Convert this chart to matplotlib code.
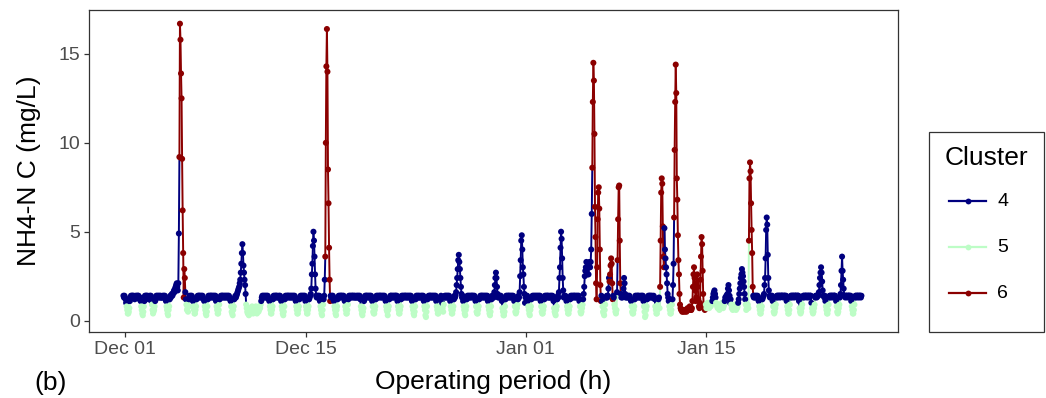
import numpy as np
import pandas as pd
import matplotlib
matplotlib.use("Agg")
import matplotlib.pyplot as plt
import matplotlib.dates as mdates
from matplotlib.collections import LineCollection
from matplotlib.lines import Line2D
from matplotlib.patches import Rectangle

plt.rcParams['font.family'] = ['Liberation Sans', 'DejaVu Sans']

# Hourly record, first sample at 21:00 on 30 Nov
series_start = "2018-11-30 21:00"

# NH4-N concentration in tenths of mg/L, one row per 24 hourly samples
nh4_tenths = [
    "14 13 14 13 12 10 8 6 4 4 5 7 11 13 14 13 14 14 13 14 13 12 13 14",
    "13 14 13 14 14 13 12 13 11 8 6 4 3 5 8 11 14 13 14 14 13 14 13 12",
    "13 14 13 14 11 9 6 4 5 6 8 11 13 14 13 14 13 14 13 14 13 14 13 13",
    "13 14 13 14 13 14 13 11 8 6 4 3 6 8 12 14 13 14 15 14 15 16 17 16",
    "18 19 20 21 19 17 21 49 92 167 158 139 125 91 62 38 13 29 24 16 12 9 6 7",
    "5 8 12 14 13 14 13 14 13 11 8 6 4 4 6 8 12 13 14 13 14 14 13 14",
    "13 14 13 14 13 12 11 8 6 4 3 5 8 12 14 13 14 13 14 14 13 14 13 14",
    "13 14 13 14 11 8 6 4 4 6 9 12 13 14 13 14 14 13 14 13 14 13 14 13",
    "14 13 14 13 14 13 12 11 8 5 4 3 6 8 12 13 14 13 14 15 16 17 18 19",
    "21 23 27 32 38 43 38 31 27 23 20 15 9 7 5 4 6 3 5 7 4 6 5 8",
    "6 4 5 7 5 6 8 5 4 6 7 5 6 8 7 9 11 13 14 13 14 13 14 13",
    "14 13 14 13 14 13 12 11 8 6 4 4 6 8 12 14 13 14 13 14 14 13 14 13",
    "13 14 13 14 13 11 8 6 4 3 5 8 12 14 13 14 13 14 14 13 14 13 14 13",
    "14 13 14 13 14 13 14 13 11 8 6 4 4 6 8 12 13 14 13 14 13 14 13 14",
    "13 14 11 8 6 4 4 6 8 12 13 14 15 18 26 32 42 50 45 36 26 18 14 13",
    "14 13 14 13 14 11 8 6 4 3 6 9 12 14 23 36 100 143 164 140 85 66 41 23",
    "11 14 13 14 13 14 13 11 8 6 4 3 6 8 12 13 14 13 14 13 14 14 13 14",
    "13 14 13 11 8 6 4 4 6 9 12 14 13 14 13 14 13 14 14 13 14 13 14 13",
    "13 14 13 14 13 14 13 14 12 8 6 4 3 5 7 11 13 14 13 14 14 13 14 13",
    "14 13 14 13 14 13 11 8 5 4 4 6 8 12 14 13 14 13 14 13 14 14 13 14",
    "13 14 13 14 13 14 13 11 8 6 5 3 6 8 12 13 14 14 13 14 13 14 13 14",
    "13 14 14 13 14 11 8 6 4 4 6 8 12 14 13 14 13 14 13 14 14 13 14 13",
    "14 13 14 13 14 13 14 13 11 8 6 4 3 5 8 12 14 13 14 13 14 13 14 13",
    "13 14 13 14 13 14 11 8 6 3 2 5 8 12 13 14 13 14 14 13 14 13 14 13",
    "14 13 14 13 14 11 8 6 4 4 6 8 12 13 14 13 10 7 5 9 13 14 13 14",
    "13 14 13 14 13 14 13 11 8 6 4 4 6 8 12 14 13 14 16 20 24 29 34 37",
    "33 29 24 19 15 13 14 11 8 6 4 3 6 8 12 14 13 14 13 14 13 14 13 14",
    "14 13 14 13 14 13 11 8 5 4 4 6 8 12 13 14 13 14 14 13 14 13 14 13",
    "14 13 14 13 14 11 8 6 4 3 5 8 12 14 13 14 13 16 20 24 27 24 19 15",
    "13 14 13 14 13 14 13 11 7 5 3 3 5 8 12 14 13 14 13 14 14 13 14 13",
    "14 13 14 13 14 13 11 8 5 4 5 7 9 12 14 13 16 25 34 45 48 40 30 26",
    "19 15 10 13 14 13 14 11 8 6 4 3 6 8 12 13 14 13 14 13 14 13 14 13",
    "14 13 14 13 14 13 14 11 8 5 4 4 6 8 12 14 13 14 13 14 14 13 14 13",
    "13 14 13 14 13 14 13 11 7 5 4 3 6 8 12 14 13 16 24 30 41 50 46 35",
    "24 17 13 14 13 14 13 11 8 6 4 4 6 8 12 14 13 14 13 14 13 14 14 13",
    "14 13 14 13 14 13 14 11 8 5 4 5 7 9 12 15 19 25 28 30 33 30 26 30",
    "26 30 33 30 33 40 60 86 123 145 135 105 64 47 21 12 30 57 72 75 63 40 20 11",
    "14 11 8 5 4 3 6 9 13 13 14 13 14 18 24 22 26 31 35 32 21 12 14 13",
    "9 7 5 4 6 16 34 57 75 76 45 21 15 13 14 13 14 18 24 21 15 13 14 13",
    "14 13 14 13 14 13 12 11 8 5 4 4 6 8 12 14 13 14 13 14 14 13 14 13",
    "13 14 13 14 13 14 11 8 5 2 3 6 8 12 13 14 13 14 14 13 14 13 14 13",
    "13 14 13 12 8 6 4 4 6 9 12 13 7 19 45 72 80 77 53 36 30 52 40 35",
    "30 26 21 15 13 11 8 6 4 4 6 9 12 20 32 58 96 123 144 128 80 68 48 34",
    "26 15 9 7 6 6 5 6 5 6 6 5 6 6 5 6 7 6 6 7 8 7 6 6",
    "7 11 19 26 30 24 17 11 13 21 26 19 12 8 7 10 23 36 47 43 28 15 8 7",
    "6 8 9 7 8 10 9 8 7 9 10 8 9 10 11 13 15 16 17 15 13 10 9 8",
    "7 9 8 6 8 9 7 8 10 9 7 8 9 11 13 12 14 13 15 18 20 17 14 10",
    "12 9 7 8 6 7 9 8 7 8 6 9 7 8 10 12 15 18 21 24 26 29 27 25",
    "22 19 15 12 9 6 7 8 9 7 45 80 89 84 66 51 38 19 14 13 14 13 14 13",
    "14 13 14 13 11 8 6 4 4 6 8 12 13 14 15 20 24 35 51 58 54 37 24 17",
    "14 13 14 14 13 14 11 8 5 4 5 7 9 13 14 14 13 14 14 14 13 14 14 14",
    "14 14 13 14 14 14 13 14 11 8 6 4 4 6 9 13 14 14 13 14 14 14 13 14",
    "14 14 14 13 14 14 14 11 7 5 4 5 7 9 13 14 14 13 14 14 14 14 13 14",
    "14 14 13 14 14 14 10 7 5 4 5 7 9 13 14 14 13 14 14 14 16 20 24 27",
    "30 27 22 17 14 14 13 14 11 8 6 4 4 6 9 13 14 14 13 14 14 14 13 14",
    "14 14 14 13 11 8 5 4 5 7 9 13 15 20 28 36 28 23 18 14 14 13 14 14",
    "14 13 14 14 14 14 13 14 11 8 6 4 4 6 9 13 14 14 13 14 14 14 13 14",
    "14 14 13 14",
]

# Cluster label of every hourly sample, same layout as above
cluster_codes = [
    "444444555555444444444444",
    "444444444555555444444444",
    "444445555554444444444444",
    "444444445555554444444444",
    "444444446666666666644555",
    "554444444455555544444444",
    "444444455555544444444444",
    "444445555554444444444444",
    "444444445555554444444444",
    "444444444444555555555555",
    "555555555555555544444444",
    "444444445555554444444444",
    "444444555555444444444444",
    "444444444555555444444444",
    "444555555444444444444444",
    "444444555555444666666666",
    "644444445555554444444444",
    "444455555544444444444444",
    "444444444555555444444444",
    "444444455555544444444444",
    "444444445555554444444444",
    "444444555555444444444444",
    "444444444555555444444444",
    "444444455555544444444444",
    "444444555555444445554444",
    "444444445555554444444444",
    "444444445555554444444444",
    "444444455555544444444444",
    "444444555555444444444444",
    "444444445555554444444444",
    "444444455555544444444444",
    "444444445555554444444444",
    "444444445555554444444444",
    "444444445555554444444444",
    "444444445555554444444444",
    "444444445555554444444444",
    "444444466666666666666666",
    "445555554444444666666644",
    "555554666666444444444444",
    "444444445555554444444444",
    "444444455555544444444444",
    "444455555544566666666444",
    "444444555555444666666666",
    "666666666666666666666666",
    "666666666666666666666666",
    "665555555555554444444555",
    "555555555555544444444444",
    "455555555555554444444444",
    "444455555566666666444444",
    "444445555554444444444444",
    "444444455555544444444444",
    "444444444555555444444444",
    "444444445555554444444444",
    "444444455555544444444444",
    "444444444555555444444444",
    "444445555554444444444444",
    "444444444555555444444444",
    "4444",
]

cluster_names = ["4", "5", "6"]
cluster_colors = {4: "#00007F", 5: "#BDFDC6", 6: "#8B0000"}

bad = [i for i, (v, c) in enumerate(zip(nh4_tenths, cluster_codes))
       if len(v.split()) != len(c)]
if bad:
    raise ValueError(f"row length mismatch in rows {bad}")

nh4 = np.array([int(t) for row in nh4_tenths for t in row.split()]) / 10.0
cluster = np.array([int(ch) for row in cluster_codes for ch in row])
times = pd.date_range(series_start, periods=len(nh4), freq="h")
xnum = mdates.date2num(times.to_pydatetime())

W, H = 1046, 398
fig = plt.figure(figsize=(W / 100, H / 100), dpi=100)
ax = fig.add_axes([89 / W, 1 - 332 / H, 809 / W, 322 / H])

# one path through all samples; each segment takes the colour of its first point
pts = np.column_stack([xnum, nh4])
segs = np.stack([pts[:-1], pts[1:]], axis=1)
seg_cols = [cluster_colors[c] for c in cluster[:-1]]
ax.add_collection(LineCollection(segs, colors=seg_cols, linewidths=1.4,
                                 capstyle="round", joinstyle="round", zorder=2))
ax.scatter(xnum, nh4, s=19, c=[cluster_colors[c] for c in cluster],
           linewidths=0, zorder=3)

dec01 = mdates.date2num(pd.Timestamp("2018-12-01").to_pydatetime())
ax.set_xlim(dec01 - 2.79, dec01 + 59.83)
ax.set_ylim(-0.64, 17.47)

tick_dates = ["2018-12-01", "2018-12-15", "2019-01-01", "2019-01-15"]
ax.set_xticks([mdates.date2num(pd.Timestamp(d).to_pydatetime()) for d in tick_dates])
ax.xaxis.set_major_formatter(mdates.DateFormatter("%b %d"))
ax.set_yticks([0, 5, 10, 15])

for sp in ax.spines.values():
    sp.set_color("#333333")
    sp.set_linewidth(0.9)
ax.tick_params(axis="both", length=3.6, width=0.9, color="#333333",
               labelsize=14, labelcolor="#4D4D4D", pad=3)

ax.set_xlabel("Operating period (h)", fontsize=19)
ax.xaxis.set_label_coords(0.5, (332 - 382) / 322)
ax.xaxis.label.set_va("center")
ax.set_ylabel("NH4-N C (mg/L)", fontsize=19)
ax.yaxis.set_label_coords((29 - 89) / 809, 0.5)
ax.yaxis.label.set_va("center")

fig.text(51 / W, 1 - 383 / H, "(b)", fontsize=19, ha="center", va="center")

# legend panel
def fx(x):
    return x / W

def fy(y):
    return 1 - y / H

fig.patches.append(Rectangle((fx(929), fy(332)), fx(1044) - fx(929), fy(132) - fy(332),
                             transform=fig.transFigure, facecolor="white",
                             edgecolor="#333333", linewidth=0.9))
fig.text(fx(945), fy(158), "Cluster", fontsize=19, ha="left", va="center")
for name, ky in zip(cluster_names, [201, 247, 293]):
    col = cluster_colors[int(name)]
    fig.lines.append(Line2D([fx(949), fx(986)], [fy(ky), fy(ky)], transform=fig.transFigure,
                            color=col, linewidth=1.6))
    fig.lines.append(Line2D([fx(967.5)], [fy(ky)], transform=fig.transFigure, color=col,
                            marker="o", markersize=4.2, markeredgewidth=0, linestyle="none"))
    fig.text(fx(997), fy(ky), name, fontsize=14, ha="left", va="center")

fig.savefig("out.png", dpi=100)
